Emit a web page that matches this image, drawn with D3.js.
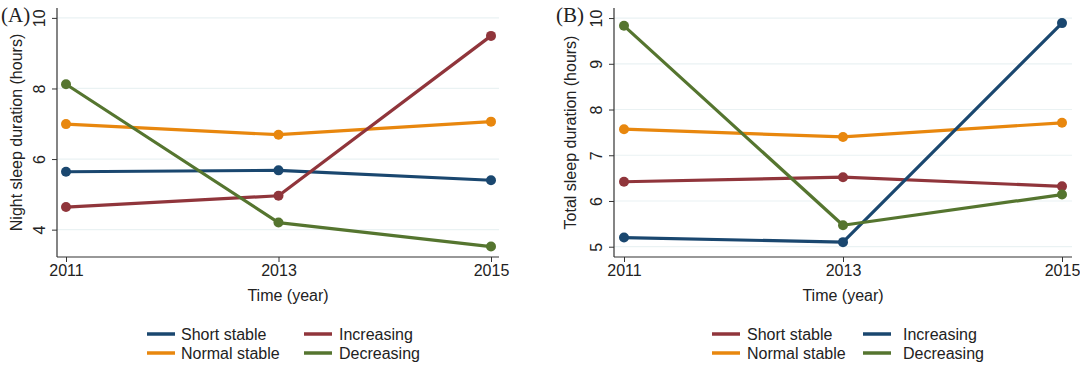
<!DOCTYPE html>
<html>
<head>
<meta charset="utf-8">
<script src="https://cdn.jsdelivr.net/npm/d3@7"></script>
<style>
  html, body { margin: 0; padding: 0; background: #fff; }
  svg { display: block; }
  text { font-family: "Liberation Sans", Arial, sans-serif; fill: #222; }
</style>
</head>
<body>
<svg id="chart" width="1080" height="366"></svg>
<script>
// ---------- data ----------
const years = [2011, 2013, 2015];
const seriesNames = ["Short stable", "Normal stable", "Increasing", "Decreasing"];

// Panel A: night sleep duration (hours)
const nightShortStable  = [5.64, 5.68, 5.40];
const nightNormalStable = [6.99, 6.69, 7.06];
const nightIncreasing   = [4.64, 4.96, 9.49];
const nightDecreasing   = [8.12, 4.20, 3.52];
const nightTicks = [4, 6, 8, 10];

// Panel B: total sleep duration (hours)
const totalShortStable  = [6.42, 6.52, 6.32];
const totalNormalStable = [7.57, 7.40, 7.71];
const totalIncreasing   = [5.20, 5.10, 9.89];
const totalDecreasing   = [9.83, 5.47, 6.14];
const totalTicks = [5, 6, 7, 8, 9, 10];

// ---------- styles ----------
const NAVY = "#1a476f", MAROON = "#90353b", ORANGE = "#e8870e", GREEN = "#55752f";

const svg = d3.select("#chart");

function drawPanel(cfg) {
  const g = svg.append("g");
  const x = d3.scaleLinear().domain([2011, 2015]).range([cfg.x0, cfg.x1]);
  const y = d3.scaleLinear().domain(cfg.yDomain).range([cfg.bottom, cfg.top]);

  // gridlines
  g.selectAll(".grid").data(cfg.ticks).enter().append("line")
    .attr("x1", cfg.axisX).attr("x2", cfg.right)
    .attr("y1", d => y(d)).attr("y2", d => y(d))
    .attr("stroke", "#eaf2f3").attr("stroke-width", 1.2);

  // y axis
  const yAxis = d3.axisLeft(y).tickValues(cfg.ticks).tickSize(5).tickFormat(d3.format("d"));
  const ya = g.append("g").attr("transform", `translate(${cfg.axisX},0)`).call(yAxis);
  ya.select(".domain").remove();
  ya.selectAll(".tick line").attr("stroke", "#333");
  ya.selectAll(".tick text")
    .attr("font-size", 16).attr("font-family", "Liberation Sans, Arial, sans-serif")
    .attr("fill", "#222")
    .attr("x", null).attr("dy", null)
    .attr("text-anchor", "middle")
    .attr("transform", "translate(-12,0) rotate(-90)");
  g.append("line").attr("x1", cfg.axisX).attr("x2", cfg.axisX)
    .attr("y1", cfg.top).attr("y2", cfg.bottom).attr("stroke", "#333").attr("stroke-width", 1.2);

  // x axis
  const xAxis = d3.axisBottom(x).tickValues(years).tickSize(5).tickFormat(d3.format("d"));
  const xa = g.append("g").attr("transform", `translate(0,${cfg.bottom})`).call(xAxis);
  xa.select(".domain").remove();
  xa.selectAll(".tick line").attr("stroke", "#333");
  xa.selectAll(".tick text")
    .attr("font-size", 16).attr("font-family", "Liberation Sans, Arial, sans-serif")
    .attr("fill", "#222").attr("y", 8).attr("dy", "0.71em");
  g.append("line").attr("x1", cfg.axisX).attr("x2", cfg.right)
    .attr("y1", cfg.bottom).attr("y2", cfg.bottom).attr("stroke", "#333").attr("stroke-width", 1.2);

  // axis titles
  g.append("text").attr("x", cfg.xTitleX).attr("y", 301)
    .attr("text-anchor", "middle").attr("font-size", 16).text("Time (year)");
  g.append("text")
    .attr("transform", `translate(${cfg.yTitleX},${(cfg.top + cfg.bottom) / 2}) rotate(-90)`)
    .attr("text-anchor", "middle").attr("font-size", 16).text(cfg.yTitle);

  // panel label
  g.append("text").attr("x", cfg.labelX).attr("y", 22)
    .attr("font-family", "Liberation Serif, Times New Roman, serif")
    .style("font-family", "'Liberation Serif', 'Times New Roman', serif")
    .attr("font-size", 21).text(cfg.label);

  // series
  const line = d3.line().x((d, i) => x(years[i])).y(d => y(d));
  cfg.series.forEach(s => {
    g.append("path").attr("d", line(s.values)).attr("fill", "none")
      .attr("stroke", s.color).attr("stroke-width", 3.2).attr("stroke-linejoin", "round");
    g.selectAll(null).data(s.values).enter().append("circle")
      .attr("cx", (d, i) => x(years[i])).attr("cy", d => y(d)).attr("r", 5)
      .attr("fill", s.color);
  });

  // legend
  const lg = g.append("g");
  cfg.legend.forEach(item => {
    lg.append("line").attr("x1", item.x).attr("x2", item.x + 28)
      .attr("y1", item.y).attr("y2", item.y)
      .attr("stroke", item.color).attr("stroke-width", 3.5);
    lg.append("text").attr("x", item.x + item.dx).attr("y", item.y + 6)
      .attr("font-size", 16).text(item.name);
  });
}

drawPanel({
  label: "(A)", labelX: 1,
  yTitle: "Night sleep duration (hours)",
  axisX: 57, right: 499, x0: 66, x1: 491, top: 8, bottom: 257,
  yDomain: [3.225, 10.28], ticks: nightTicks,
  xTitleX: 288, yTitleX: 22,
  series: [
    { name: seriesNames[0], values: nightShortStable,  color: NAVY },
    { name: seriesNames[1], values: nightNormalStable, color: ORANGE },
    { name: seriesNames[2], values: nightIncreasing,   color: MAROON },
    { name: seriesNames[3], values: nightDecreasing,   color: GREEN }
  ],
  legend: [
    { name: seriesNames[0], color: NAVY,   x: 147, y: 334, dx: 34 },
    { name: seriesNames[1], color: ORANGE, x: 147, y: 353, dx: 34 },
    { name: seriesNames[2], color: MAROON, x: 304, y: 334, dx: 35 },
    { name: seriesNames[3], color: GREEN,  x: 304, y: 353, dx: 35 }
  ]
});

drawPanel({
  label: "(B)", labelX: 556,
  yTitle: "Total sleep duration (hours)",
  axisX: 614, right: 1072, x0: 624, x1: 1062, top: 8, bottom: 257,
  yDomain: [4.775, 10.22], ticks: totalTicks,
  xTitleX: 843, yTitleX: 576,
  series: [
    { name: seriesNames[0], values: totalShortStable,  color: MAROON },
    { name: seriesNames[1], values: totalNormalStable, color: ORANGE },
    { name: seriesNames[2], values: totalIncreasing,   color: NAVY },
    { name: seriesNames[3], values: totalDecreasing,   color: GREEN }
  ],
  legend: [
    { name: seriesNames[0], color: MAROON, x: 712, y: 334, dx: 35 },
    { name: seriesNames[1], color: ORANGE, x: 712, y: 353, dx: 35 },
    { name: seriesNames[2], color: NAVY,   x: 863, y: 334, dx: 40 },
    { name: seriesNames[3], color: GREEN,  x: 863, y: 353, dx: 40 }
  ]
});
</script>
</body>
</html>
